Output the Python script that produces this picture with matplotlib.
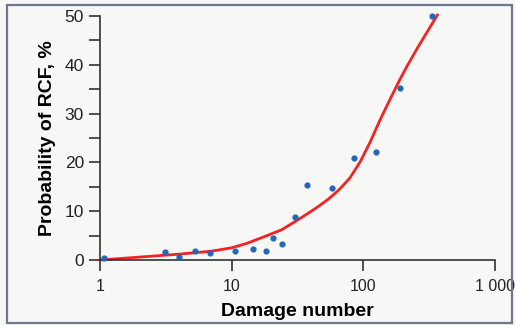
import matplotlib.pyplot as plt
from matplotlib.patches import Rectangle

# measured points (damage number, probability of RCF %)
damage = [1.07, 3.1, 4.0, 5.3, 6.8, 10.6, 14.4, 18.2, 20.7, 24.3, 30.2, 37.6, 58, 85, 125, 190, 333]
prob = [0.4, 1.6, 0.6, 1.8, 1.4, 1.8, 2.3, 1.8, 4.5, 3.3, 8.8, 15.3, 14.7, 20.8, 22.1, 35.2, 50.0]

# fitted trend curve
fit_x = [1, 2, 4, 7, 10, 13, 17, 24, 30, 38, 46, 55, 66, 79, 95, 113, 135, 160, 190, 215, 257, 300, 365]
fit_y = [0, 0.6, 1.2, 1.8, 2.5, 3.4, 4.6, 6.2, 7.8, 9.55, 11.05, 12.6, 14.5, 16.8, 20.2, 24.25, 28.9,
         33.0, 37.05, 39.75, 43.4, 46.4, 50.2]

xticks = [1, 10, 100, 1000]
xtick_labels = ['1', '10', '100', '1 000']

plt.rcParams['font.family'] = ['Liberation Sans', 'DejaVu Sans']

fig = plt.figure(figsize=(5.15, 3.25), dpi=100)
fig.patch.set_facecolor('#f7f7f5')
fig.patches.append(Rectangle((7 / 515, 2 / 325), 505 / 515, 318 / 325, transform=fig.transFigure,
                             fill=False, edgecolor='#6d7790', linewidth=1.6))

ax = fig.add_axes([100 / 515, 65 / 325, 395 / 515, 244 / 325])
ax.set_facecolor('none')

ax.scatter(damage, prob, s=12, color='#2566b8', zorder=3, clip_on=False)
ax.plot(fit_x, fit_y, color='#f52222', linewidth=2, zorder=2, clip_on=False)

ax.set_xscale('log')
ax.set_xlim(1, 1000)
ax.set_ylim(0, 50)
ax.set_xticks(xticks)
ax.set_xticklabels(xtick_labels)
ax.minorticks_off()
ax.set_yticks(range(0, 51, 10))
ax.set_yticks(range(5, 50, 10), minor=True)

for s in ['top', 'right']:
    ax.spines[s].set_visible(False)
for s in ['left', 'bottom']:
    ax.spines[s].set_color('#333333')
    ax.spines[s].set_linewidth(1.2)

ax.tick_params(axis='both', which='major', length=8, width=1.2, color='#333333',
               labelsize=12.5, labelcolor='#222222', direction='out')
ax.tick_params(axis='x', labelsize=11.5, pad=6)
ax.tick_params(axis='y', which='minor', length=8, width=1.2, color='#333333', direction='out')

ax.set_xlabel('Damage number', fontsize=14, fontweight='bold', labelpad=6)
ax.set_ylabel('Probability of RCF, %', fontsize=14, fontweight='bold', labelpad=6)

plt.savefig('out.png', dpi=100, facecolor=fig.get_facecolor())
